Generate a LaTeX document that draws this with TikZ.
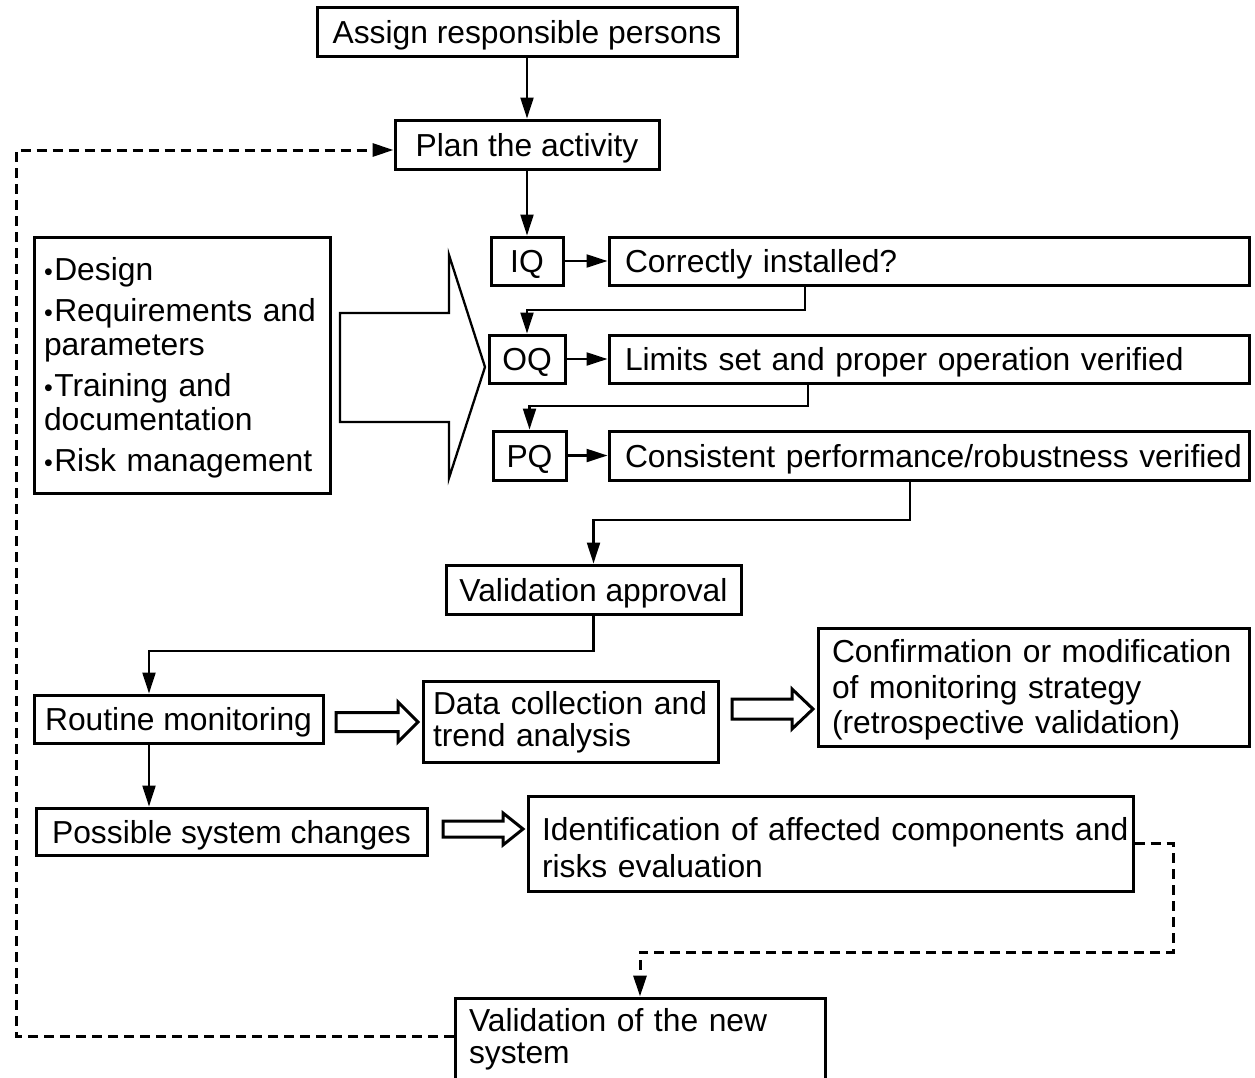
\documentclass[tikz,border=0pt]{standalone}
\usepackage{fontspec}
\setmainfont{Liberation Sans}
\usetikzlibrary{arrows.meta,calc}
\tikzset{
 box/.style={draw, line width=3pt, inner sep=0pt, font=\fontsize{31.8pt}{34pt}\selectfont},
 one/.style={text height=23pt, text depth=0pt},
 lbox/.style={box, align=left, inner xsep=14pt},
 conn/.style={line width=2.2pt, -{Triangle[length=21pt,width=13pt]}},
 dconn/.style={line width=3pt, dash pattern=on 10pt off 6pt, -{Triangle[length=21pt,width=13pt]}},
 hollow/.style={draw, line width=3pt, line join=miter},
 bigarrow/.style={draw, line width=2.3pt, line join=miter},
}
\newcommand\hollowarr[6]{%
  \draw[hollow] (#1,{#3-#4}) -- ({#2-#6},{#3-#4}) -- ({#2-#6},{#3-#5}) -- (#2,#3)
    -- ({#2-#6},{#3+#5}) -- ({#2-#6},{#3+#4}) -- (#1,{#3+#4}) -- cycle;}
\newcommand\bul{{\fontsize{25pt}{25pt}\selectfont •}\hspace{1.5pt}}
\begin{document}
\begin{tikzpicture}[x=1pt,y=-1pt]
\useasboundingbox (0,0) rectangle (1255,1077);
\clip (0,0) rectangle (1255,1077);

\node[box, one, minimum width=420pt, minimum height=49pt] (assign) at (527,31.5) {Assign responsible persons};
\node[box, one, minimum width=264pt, minimum height=49pt] (plan) at (527,144.5) {Plan the activity};

\node[box, one, minimum width=72pt, minimum height=48pt] (iq) at (527,261) {IQ};
\node[lbox, one, inner xsep=16pt, text width=608pt, minimum width=640pt, minimum height=48pt] (correct) at (929,261) {Correctly installed?};
\node[box, one, minimum width=76pt, minimum height=48pt] (oq) at (527,359) {OQ};
\node[lbox, one, inner xsep=16pt, text width=608pt, minimum width=640pt, minimum height=48pt] (limits) at (929,359) {Limits set and proper operation verified};
\node[box, one, minimum width=73pt, minimum height=49pt] (pq) at (529.5,455.5) {PQ};
\node[lbox, one, inner xsep=16pt, text width=608pt, minimum width=640pt, minimum height=49pt] (consist) at (929,455.5) {\mbox{Consistent performance/robustness verified}};

\node[lbox, inner xsep=10pt, text width=276pt, minimum width=296pt, minimum height=256pt] (reqs) at (182,365)
 {\rule{0pt}{28pt}\mbox{\bul Design}\\[7pt] \mbox{\bul Requirements and}\\ parameters\\[7pt] \mbox{\bul Training and}\\ documentation\\[7pt] \mbox{\bul Risk management}};

\node[box, one, minimum width=295pt, minimum height=49pt] (va) at (593.5,589.5) {Validation approval};
\node[box, one, minimum width=289pt, minimum height=48pt] (routine) at (178.5,719) {Routine monitoring};
\node[lbox, inner xsep=10pt, text width=275pt, minimum width=295pt, minimum height=81pt,
  font=\fontsize{31.8pt}{32pt}\selectfont] (data) at (570.5,721.5) {\rule{0pt}{25pt}\mbox{Data collection and}\\ trend analysis};
\node[lbox, inner xsep=14pt, text width=403pt, minimum width=431pt, minimum height=118pt,
  font=\fontsize{31.8pt}{35.5pt}\selectfont] (confirm) at (1033.5,687)
  {\rule{0pt}{29pt}\mbox{Confirmation or modification}\\ \mbox{of monitoring strategy}\\ \mbox{(retrospective validation)}};
\node[box, one, minimum width=391pt, minimum height=47pt] (possible) at (231.5,831.5) {Possible system changes};
\node[lbox, inner xsep=14pt, text width=577pt, minimum width=605pt, minimum height=95pt,
  font=\fontsize{31.8pt}{37pt}\selectfont] (ident) at (830.5,843.5)
  {\rule{0pt}{31pt}\mbox{Identification of affected components and}\\ risks evaluation};
\node[lbox, inner xsep=14pt, text width=342pt, minimum width=370pt, minimum height=82pt,
  font=\fontsize{31.8pt}{32pt}\selectfont] (vns) at (640,1039) {\mbox{Validation of the new}\\ system};

% big outline arrow
\draw[bigarrow] (340,313) -- (449,313) -- (449,255) -- (485,367) -- (449,478) -- (449,422) -- (340,422) -- cycle;

% hollow arrows
\hollowarr{336}{418}{722}{9.5}{20}{20}
\hollowarr{732}{813}{709}{10}{20}{21}
\hollowarr{443}{523}{829}{8}{16}{20}

\coordinate (c1) at (805,310);
\coordinate (c2) at (808,406);
\coordinate (c3) at (910,520);
\coordinate (c4) at (149,651);
\coordinate (c5) at (16,150);
\coordinate (c6) at (1173,952);

\draw[conn] (assign.south) -- (plan.north);
\draw[conn] (plan.south) -- (iq.north);
\draw[conn] (iq.east) -- (correct.west);
\draw[conn] (oq.east) -- (limits.west);
\draw[conn] (pq.east) -- (consist.west);
\draw[conn] (c1 |- correct.south) -- (c1) -| (oq.north);
\draw[conn] (c2 |- limits.south) -- (c2) -| (pq.north);
\draw[conn] (c3 |- consist.south) -- (c3) -| (va.north);
\draw[conn] (va.south) |- (c4) -- (c4 |- routine.north);
\draw[conn] (c4 |- routine.south) -- (c4 |- possible.north);
\draw[dconn] ([yshift=3pt]vns.west) -| (c5) -- (c5 -| plan.west);
\draw[dconn] (ident.east) -| (c6) -| (vns.north);
\end{tikzpicture}
\end{document}
